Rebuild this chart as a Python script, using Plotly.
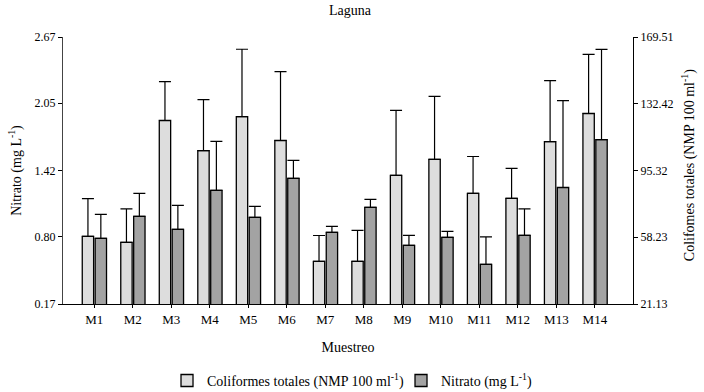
import plotly.graph_objects as go

categories = ["M1", "M2", "M3", "M4", "M5", "M6", "M7", "M8", "M9", "M10", "M11", "M12", "M13", "M14"]
coliformes = [58.7, 55.4, 123.1, 106.4, 125.3, 112.0, 44.8, 44.8, 92.6, 101.5, 82.6, 79.8, 111.4, 127.0]
coliformes_err = [21.0, 18.6, 21.6, 28.3, 37.4, 38.3, 14.4, 17.2, 36.1, 35.0, 20.5, 16.7, 33.9, 32.9]
nitrato = [0.784, 0.99, 0.869, 1.233, 0.981, 1.346, 0.841, 1.074, 0.719, 0.794, 0.541, 0.813, 1.261, 1.71]
nitrato_err = [0.225, 0.215, 0.224, 0.46, 0.103, 0.168, 0.056, 0.075, 0.094, 0.056, 0.258, 0.248, 0.814, 0.845]
left_ticks = [0.17, 0.80, 1.42, 2.05, 2.67]
right_ticks = [21.13, 58.23, 95.32, 132.42, 169.51]

FONT = "Liberation Serif"

fig = go.Figure()
fig.add_trace(go.Bar(
    x=categories, y=coliformes, yaxis="y2",
    name="Coliformes totales (NMP 100 ml<sup>-1</sup>)",
    marker=dict(color="#dddddd", line=dict(color="black", width=1.3)),
    width=0.295, offset=-0.31,
    error_y=dict(type="data", symmetric=False, array=coliformes_err,
                 arrayminus=[0] * len(coliformes_err), color="black", thickness=1.2, width=6),
))
fig.add_trace(go.Bar(
    x=categories, y=nitrato, yaxis="y",
    name="Nitrato (mg L<sup>-1</sup>)",
    marker=dict(color="#a3a3a3", line=dict(color="black", width=1.3)),
    width=0.295, offset=0.025,
    error_y=dict(type="data", symmetric=False, array=nitrato_err,
                 arrayminus=[0] * len(nitrato_err), color="black", thickness=1.2, width=6),
))

fig.update_layout(
    width=704, height=392,
    margin=dict(l=63, r=71, t=37, b=88, autoexpand=False),
    paper_bgcolor="white", plot_bgcolor="white",
    font=dict(family=FONT, size=12, color="black"),
    title=dict(text="Laguna", x=0.497, xanchor="center", yref="container", y=0.974, yanchor="middle",
               font=dict(family=FONT, size=14)),
    barmode="overlay",
    showlegend=True,
    legend=dict(orientation="h", x=0.593, xanchor="center", y=-0.228, yanchor="top",
                font=dict(family=FONT, size=14), tracegroupgap=0, entrywidth=189),
    xaxis=dict(
        type="category", range=[-0.81, 13.99],
        showline=True, linecolor="black", linewidth=1.2,
        ticks="outside", ticklen=3, tickcolor="black",
        showgrid=False, zeroline=False,
        tickfont=dict(family=FONT, size=13),
        title=dict(text="Muestreo", font=dict(family=FONT, size=14), standoff=16),
    ),
    yaxis=dict(
        range=[0.17, 2.67], tickvals=left_ticks, ticktext=["%.2f" % v for v in left_ticks],
        showline=True, linecolor="#444444", linewidth=1.2,
        ticks="outside", ticklen=4, tickcolor="black",
        showgrid=False, zeroline=False,
        tickfont=dict(family=FONT, size=12),
        title=dict(text="Nitrato (mg L<sup>-1</sup>)", font=dict(family=FONT, size=14), standoff=9),
    ),
    yaxis2=dict(
        range=[21.13, 169.51], tickvals=right_ticks, ticktext=["%.2f" % v for v in right_ticks],
        overlaying="y", side="right",
        showline=True, linecolor="black", linewidth=1.2,
        ticks="outside", ticklen=4, tickcolor="black",
        showgrid=False, zeroline=False,
        tickfont=dict(family=FONT, size=12),
    ),
    annotations=[dict(
        text="Colifomes totales (NMP 100 ml<sup>-1</sup>)",
        xref="paper", yref="paper", x=1.0965, y=0.52,
        xanchor="center", yanchor="middle", textangle=-90, showarrow=False,
        font=dict(family=FONT, size=14),
    )],
)

fig.write_html("out.html", config={"displayModeBar": False},
               post_script="document.body.style.margin='0';document.body.style.overflow='hidden';")
